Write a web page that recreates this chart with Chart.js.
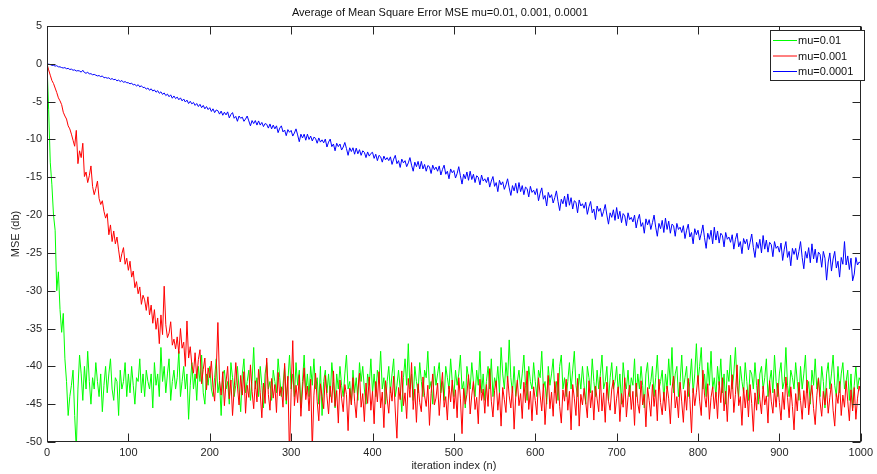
<!DOCTYPE html>
<html>
<head>
<meta charset="utf-8">
<script src="https://cdn.jsdelivr.net/npm/chart.js@4.4.1/dist/chart.umd.min.js"></script>
<style>
  html, body { margin: 0; padding: 0; background: #fff; }
  #wrap { position: relative; width: 877px; height: 474px; }
</style>
</head>
<body>
<div id="wrap"><canvas id="mse" width="877" height="474"></canvas></div>
<script>
// MSE learning curves, sampled every 2 iterations

const TITLE = 'Average of Mean Square Error MSE mu=0.01, 0.001, 0.0001';
const LABELS = ['mu=0.01', 'mu=0.001', 'mu=0.0001'];

const iterations = [
  0, 2, 4, 6, 8, 10, 12, 14, 16, 18, 20, 22, 24, 26, 28, 30, 32, 34, 36, 38,
  40, 42, 44, 46, 48, 50, 52, 54, 56, 58, 60, 62, 64, 66, 68, 70, 72, 74, 76, 78,
  80, 82, 84, 86, 88, 90, 92, 94, 96, 98, 100, 102, 104, 106, 108, 110, 112, 114, 116, 118,
  120, 122, 124, 126, 128, 130, 132, 134, 136, 138, 140, 142, 144, 146, 148, 150, 152, 154, 156, 158,
  160, 162, 164, 166, 168, 170, 172, 174, 176, 178, 180, 182, 184, 186, 188, 190, 192, 194, 196, 198,
  200, 202, 204, 206, 208, 210, 212, 214, 216, 218, 220, 222, 224, 226, 228, 230, 232, 234, 236, 238,
  240, 242, 244, 246, 248, 250, 252, 254, 256, 258, 260, 262, 264, 266, 268, 270, 272, 274, 276, 278,
  280, 282, 284, 286, 288, 290, 292, 294, 296, 298, 300, 302, 304, 306, 308, 310, 312, 314, 316, 318,
  320, 322, 324, 326, 328, 330, 332, 334, 336, 338, 340, 342, 344, 346, 348, 350, 352, 354, 356, 358,
  360, 362, 364, 366, 368, 370, 372, 374, 376, 378, 380, 382, 384, 386, 388, 390, 392, 394, 396, 398,
  400, 402, 404, 406, 408, 410, 412, 414, 416, 418, 420, 422, 424, 426, 428, 430, 432, 434, 436, 438,
  440, 442, 444, 446, 448, 450, 452, 454, 456, 458, 460, 462, 464, 466, 468, 470, 472, 474, 476, 478,
  480, 482, 484, 486, 488, 490, 492, 494, 496, 498, 500, 502, 504, 506, 508, 510, 512, 514, 516, 518,
  520, 522, 524, 526, 528, 530, 532, 534, 536, 538, 540, 542, 544, 546, 548, 550, 552, 554, 556, 558,
  560, 562, 564, 566, 568, 570, 572, 574, 576, 578, 580, 582, 584, 586, 588, 590, 592, 594, 596, 598,
  600, 602, 604, 606, 608, 610, 612, 614, 616, 618, 620, 622, 624, 626, 628, 630, 632, 634, 636, 638,
  640, 642, 644, 646, 648, 650, 652, 654, 656, 658, 660, 662, 664, 666, 668, 670, 672, 674, 676, 678,
  680, 682, 684, 686, 688, 690, 692, 694, 696, 698, 700, 702, 704, 706, 708, 710, 712, 714, 716, 718,
  720, 722, 724, 726, 728, 730, 732, 734, 736, 738, 740, 742, 744, 746, 748, 750, 752, 754, 756, 758,
  760, 762, 764, 766, 768, 770, 772, 774, 776, 778, 780, 782, 784, 786, 788, 790, 792, 794, 796, 798,
  800, 802, 804, 806, 808, 810, 812, 814, 816, 818, 820, 822, 824, 826, 828, 830, 832, 834, 836, 838,
  840, 842, 844, 846, 848, 850, 852, 854, 856, 858, 860, 862, 864, 866, 868, 870, 872, 874, 876, 878,
  880, 882, 884, 886, 888, 890, 892, 894, 896, 898, 900, 902, 904, 906, 908, 910, 912, 914, 916, 918,
  920, 922, 924, 926, 928, 930, 932, 934, 936, 938, 940, 942, 944, 946, 948, 950, 952, 954, 956, 958,
  960, 962, 964, 966, 968, 970, 972, 974, 976, 978, 980, 982, 984, 986, 988, 990, 992, 994, 996, 998,
  1000
];

// mu = 0.01
const mseMu01 = [
  0, -6, -13, -16, -20, -22, -30, -27.5, -32.5, -35.5,
  -33, -39, -42, -46.5, -44, -42.5, -40.5, -46.5, -51, -43,
  -38.5, -41, -44.5, -40, -43, -38, -42, -45, -41.5, -43,
  -39.5, -42, -44, -41, -46, -42.5, -40, -43.5, -41, -39,
  -43, -44.5, -41.5, -42, -46.5, -40.5, -43, -42, -39.5, -44,
  -41, -43.5, -40, -42.5, -45, -41.5, -42, -39, -43.5, -41,
  -44, -40.5, -42, -43, -41, -45.5, -39.5, -42.5, -41, -44,
  -37.5, -42, -40, -43.5, -41, -39, -44.5, -42, -40.5, -43,
  -41.5, -38, -44, -42, -40, -43, -41, -47, -42.5, -39.5,
  -43, -41, -44.5, -40, -42, -38.5, -43.5, -45, -41, -42.5,
  -40, -43, -44, -41.5, -39, -43.5, -42, -46.5, -41, -40.5,
  -43, -42, -45, -39.5, -41.5, -44, -42.5, -40, -43, -46,
  -41, -39, -43.5, -42, -40.5, -44.5, -42, -37.5, -43, -41.5,
  -44, -40, -42.5, -45.5, -41, -39.5, -43, -42, -44.5, -40.5,
  -42, -43.5, -39, -41.5, -44, -42.5, -40, -45, -42, -38.5,
  -43, -41, -44, -39.5, -42.5, -40.5, -45.5, -42, -38.5, -43.5,
  -41, -44, -40, -42.5, -39, -43, -41.5, -45, -40, -46.5,
  -42, -40.5, -43.5, -41, -44, -39.5, -42, -45.5, -41, -43,
  -40, -42.5, -44, -41, -38.5, -43, -42, -45, -40.5, -43.5,
  -41.5, -44.5, -39.5, -42, -40, -43, -45, -41, -42.5, -39,
  -43.5, -41, -44, -40.5, -42, -38, -43, -41.5, -45, -42,
  -40, -43.5, -41, -39, -44, -42.5, -40.5, -43, -46, -41.5,
  -39, -42.5, -37, -43, -41, -44.5, -40, -42, -43.5, -39.5,
  -42, -44, -40.5, -41.5, -38, -43, -42, -45, -40, -42.5,
  -41, -39.5, -43.5, -42, -44.5, -40, -41.5, -43, -39, -42,
  -44, -40.5, -42.5, -41, -38.5, -43, -42, -45.5, -40, -41.5,
  -43, -39.5, -42, -44, -40.5, -42.5, -38, -43.5, -41, -44.5,
  -42, -40, -43, -39, -44, -41.5, -42.5, -40, -43.5, -37.5,
  -41, -43, -39.5, -42, -36.5, -41.5, -43.5, -40, -44, -42,
  -40.5, -43, -41, -38.5, -42.5, -44.5, -40, -42, -43, -39.5,
  -42, -44, -40.5, -41.5, -38, -43, -42, -45, -40, -42.5,
  -41, -39, -43.5, -42, -44.5, -40, -38.5, -43, -41.5, -44,
  -42, -39.5, -43, -40.5, -38, -42.5, -44, -41, -43, -40,
  -42.5, -45, -40, -41.5, -43.5, -39, -42, -44, -40.5, -43,
  -41, -38.5, -43, -42, -40, -44.5, -41.5, -39.5, -43, -42,
  -40, -43.5, -41, -45, -39.5, -42, -43, -40.5, -44, -41.5,
  -42.5, -39, -44, -41, -43, -40, -42.5, -45.5, -41, -39.5,
  -43, -42, -40, -44, -41.5, -38.5, -43, -42, -40.5, -44.5,
  -41, -43, -39, -42.5, -37.5, -43.5, -41, -40, -44, -42,
  -38.5, -43, -41.5, -40, -44, -42, -39, -43.5, -41, -37,
  -42, -40, -37.5, -43, -41, -44, -39.5, -42.5, -38, -43,
  -41.5, -44, -40, -42.5, -39, -43.5, -41, -45, -40.5, -42,
  -38.5, -43, -41, -37.5, -42.5, -44, -40, -42, -43.5, -39.5,
  -42, -44.5, -40.5, -41, -43, -39.5, -42.5, -45, -41, -40,
  -43, -41.5, -39, -44, -42, -40.5, -43.5, -38.5, -42, -44,
  -41, -39.5, -43, -42, -37.5, -42.5, -44, -40.5, -41.5, -43,
  -39.5, -42, -44.5, -40, -43, -41, -38.5, -43.5, -42, -45,
  -40.5, -42.5, -39, -43, -41.5, -44, -40, -42, -45.5, -41,
  -39.5, -43, -41, -38.5, -42.5, -44, -40, -43.5, -41, -39.5,
  -43, -42, -40.5, -44.5, -41, -45.5, -42.5, -40, -43, -41.5,
  -42
];

// mu = 0.001
const mseMu001 = [
  0, -0.8, -1.5, -2.2, -2.6, -3.2, -3.8, -4.5, -4.9, -5.4,
  -6.4, -6.9, -7.3, -8.2, -8.6, -9.3, -10.1, -10.9, -8.8, -13.2,
  -11.5, -12.4, -10.5, -14.9, -14.3, -15.7, -14.8, -13.5, -16.2, -17.3,
  -16.5, -15.5, -17.8, -18.6, -18.1, -19.5, -20.4, -19.8, -22.6, -21.3,
  -23.5, -22.1, -23.8, -22.9, -24.6, -26.2, -25.1, -24.3, -26.5, -25.7,
  -27.3, -26.1, -28.2, -27.4, -29.6, -28.8, -30.4, -29.5, -31.8, -30.6,
  -31.2, -32.6, -30.8, -33.2, -31.9, -34.3, -32.5, -35.1, -33.6, -37,
  -33.2, -35.8, -29.4, -34.5, -36.2, -35.6, -34.1, -37.2, -36.4, -37.7,
  -36.1, -38.3, -35, -37.6, -36.8, -40, -34, -38.9, -37.4, -39.8,
  -40.9, -38.2, -41.6, -39.1, -37.8, -42.3, -40.4, -38.9, -43.1, -40.2,
  -41.5, -39.3, -42.8, -44.6, -40.5, -34.2, -41.9, -43.8, -40.7, -45.2,
  -42.1, -40, -44.3, -41.8, -46.5, -43, -39.5, -42.6, -45.1, -41.2,
  -43.8, -40.7, -46.2, -42.5, -44.1, -39.8, -43.3, -45.6, -41.9, -44.7,
  -40.4, -43.5, -46.8, -42.2, -44.9, -38.9, -43.7, -45.8, -41.6, -44.2,
  -42.4, -46.1, -40.8, -43.9, -42.7, -45.4, -39.6, -44.5, -41.3, -52,
  -43.4, -36.6, -45.2, -42.5, -44.8, -41.1, -46.6, -43, -40.2, -44.4,
  -42.6, -45.9, -41.7, -51, -43.8, -40.9, -44.6, -47.2, -42.3, -44,
  -45.6, -41.2, -43.9, -46.3, -42.6, -44.8, -40.6, -45.3, -43.2, -47.5,
  -41.8, -44.2, -46, -42.4, -43.7, -48.5, -42.9, -45.1, -41.5, -44.6,
  -46.8, -43.1, -40.9, -45.4, -43.6, -47.3, -42.2, -44.9, -41.4, -45.8,
  -43.3, -47.6, -42, -44.7, -40.7, -45.5, -43.4, -48.1, -41.9, -44.3,
  -46.2, -42.7, -44.6, -41.3, -45.9, -49.5, -42.8, -44.4, -40.6, -45.2,
  -43.5, -46.9, -41.6, -44.1, -39.5, -45.7, -43, -47.4, -42.3, -44.8,
  -46, -41.4, -43.9, -45.3, -42.5, -47.8, -43.6, -41, -45.1, -44.2,
  -42.2, -46.5, -43.3, -40.8, -45.4, -44, -47.1, -42.6, -44.7, -41.8,
  -45.6, -43.1, -46.8, -41.5, -44.2, -48.9, -42.9, -45, -43.7, -41.1,
  -46.3, -43.8, -42, -45.7, -44.1, -47.6, -41.7, -44.5, -43, -46.2,
  -42.4, -45.3, -40.3, -44.6, -46.7, -43.2, -41.9, -45.8, -43.5, -47.9,
  -42.8, -44.4, -46.1, -41.3, -43.9, -45.5, -42.6, -48.3, -44, -41.8,
  -45.2, -43.6, -46.9, -42.1, -44.8, -40.6, -45.7, -43.3, -47.2, -42.7,
  -44.5, -46.4, -41.5, -43.8, -45.9, -42.3, -47.7, -44.1, -41.2, -45.6,
  -43.4, -46.6, -42, -44.9, -40.9, -45.3, -47.5, -43.1, -44.6, -41.7,
  -45.8, -43.3, -48.4, -42.4, -44.2, -46.5, -41.6, -47.9, -43.7, -45.1,
  -42.9, -44.7, -46.8, -41.9, -45.5, -43.2, -47.1, -42.6, -44.3, -46,
  -41.4, -45.9, -43.5, -47.4, -42.1, -44.6, -45.8, -43, -41.8, -46.3,
  -44.2, -42.7, -47.3, -43.6, -45.4, -41.5, -46.7, -44.1, -42.5, -45.7,
  -43.3, -47.8, -42.2, -44.9, -46.2, -41.9, -45.1, -43.7, -48, -42.8,
  -44.5, -46.6, -42.4, -45.3, -43.1, -47.2, -41.7, -44.8, -46.4, -43.4,
  -45.9, -42.6, -44.3, -47.6, -43, -41.3, -45.5, -44, -46.8, -42.1,
  -44.7, -47.4, -43.2, -45.8, -41.6, -44.4, -48.8, -42.9, -45.2, -43.5,
  -41.2, -44.6, -46.5, -40.5, -43.8, -45.4, -42.3, -47, -44.1, -42.7,
  -45.6, -43.4, -46.9, -42, -44.8, -41.5, -45.9, -43.3, -47.3, -42.5,
  -44.3, -41.1, -46.1, -43.7, -39.8, -45.2, -44, -47.8, -42.8, -45.5,
  -43.1, -46.7, -42.4, -44.9, -48.6, -43.5, -45.8, -41.7, -44.4, -46.3,
  -42.6, -45.1, -43.9, -47.5, -41.9, -44.6, -46.2, -43, -45.4, -42.2,
  -44.8, -47.1, -43.4, -45.7, -41.4, -44.1, -46.8, -42.7, -45.3, -48.4,
  -43.6, -45.9, -42.1, -44.5, -47, -43.2, -45.5, -41.8, -46.4, -44,
  -42.5, -45.6, -47.7, -43.9, -41.6, -44.7, -46.6, -43.3, -45.1, -42.9,
  -46.2, -44.1, -42.3, -45.8, -47.9, -43.6, -44.9, -42, -46.5, -43.8,
  -45.4, -41.9, -44.6, -47.2, -43.1, -45.9, -42.8, -47, -44.2, -42.6,
  -43.5
];

// mu = 0.0001
const mseMu0001 = [
  0, -0.05, -0.1, -0.2, -0.2, -0.3, -0.25, -0.4, -0.4, -0.5,
  -0.55, -0.5, -0.65, -0.6, -0.75, -0.7, -0.85, -0.8, -0.95, -0.9,
  -0.95, -1.1, -0.85, -1.15, -1.25, -1.1, -1.35, -1.3, -1.45, -1.4,
  -1.5, -1.6, -1.55, -1.7, -1.6, -1.85, -1.8, -1.9, -1.85, -2.05,
  -1.95, -2.1, -2.05, -2.25, -2.15, -2.35, -2.2, -2.45, -2.35, -2.5,
  -2.5, -2.65, -2.55, -2.8, -2.7, -2.95, -2.75, -3.05, -2.9, -3.15,
  -3.1, -3.35, -3.2, -3.5, -3.3, -3.6, -3.45, -3.75, -3.55, -3.9,
  -3.7, -4.05, -3.85, -4.2, -4.0, -4.35, -4.1, -4.55, -4.25, -4.6,
  -4.4, -4.75, -4.5, -4.9, -4.65, -5.05, -4.8, -5.25, -4.95, -5.3,
  -5.1, -5.5, -5.25, -5.65, -5.35, -5.8, -5.5, -5.95, -5.65, -6.05,
  -5.8, -6.3, -5.95, -6.45, -6.1, -6.2, -6.65, -6.25, -6.8, -6.4,
  -6.75, -6.35, -7.15, -6.7, -6.45, -7.2, -6.95, -7.6, -6.9, -7.2,
  -7.05, -7.6, -7.3, -6.9, -7.55, -8.2, -7.5, -7.9, -7.5, -8.1,
  -7.55, -8.1, -7.75, -8.3, -7.9, -8.0, -8.5, -7.95, -8.6, -8.1,
  -8.6, -8.2, -9.1, -8.5, -8.2, -9.0, -8.75, -9.5, -8.7, -9.05,
  -8.8, -9.55, -9.15, -8.6, -9.4, -10.3, -9.3, -9.8, -9.3, -10.1,
  -9.3, -10.0, -9.55, -10.2, -9.7, -9.85, -10.5, -9.8, -10.35, -10.05,
  -10.45, -9.95, -11.0, -10.35, -9.95, -10.95, -10.6, -11.5, -10.5, -10.95,
  -10.6, -11.4, -11.0, -10.4, -11.2, -12.1, -11.1, -11.6, -11.1, -11.95,
  -11.15, -11.9, -11.35, -12.1, -11.5, -11.7, -12.4, -11.65, -12.2, -11.85,
  -11.7, -12.5, -11.95, -12.8, -12.1, -12.3, -13.0, -12.2, -12.7, -12.4,
  -12.8, -12.3, -13.3, -12.6, -12.1, -13.2, -12.8, -13.7, -12.6, -13.1,
  -12.8, -13.6, -13.1, -12.4, -13.4, -14.2, -13.0, -13.6, -12.9, -13.9,
  -12.9, -13.9, -13.3, -14.2, -13.45, -13.6, -14.5, -13.4, -14.0, -13.65,
  -14.2, -13.5, -14.7, -13.95, -13.4, -14.6, -14.2, -15.2, -13.9, -14.4,
  -14.1, -15.1, -14.5, -13.6, -14.8, -15.9, -14.6, -15.2, -14.3, -15.4,
  -14.2, -15.3, -14.6, -15.7, -14.8, -15.0, -16.0, -14.7, -15.5, -15.2,
  -15.7, -15.0, -16.3, -15.5, -14.9, -16.2, -15.7, -16.9, -15.4, -16.0,
  -15.6, -16.6, -16.0, -15.2, -16.4, -17.4, -16.1, -16.8, -15.8, -17.1,
  -15.7, -16.9, -16.1, -17.3, -16.3, -16.5, -17.6, -16.2, -17.0, -16.7,
  -17.3, -16.5, -18.1, -17.1, -16.4, -17.9, -17.4, -18.8, -17.0, -17.7,
  -17.3, -18.4, -17.7, -16.8, -18.2, -19.4, -17.9, -18.5, -17.5, -18.9,
  -17.2, -18.7, -17.7, -19.2, -18.1, -18.3, -19.7, -18.0, -18.8, -18.5,
  -19.1, -18.3, -19.9, -18.9, -18.2, -19.7, -19.2, -20.6, -18.8, -19.5,
  -19.1, -20.2, -19.5, -18.6, -20.0, -21.2, -19.7, -20.3, -19.3, -20.7,
  -19.0, -20.5, -19.5, -21.0, -19.8, -20.1, -21.4, -19.7, -20.6, -20.3,
  -20.9, -20.0, -21.7, -20.6, -19.9, -21.5, -21.0, -22.4, -20.5, -21.3,
  -20.6, -21.9, -21.0, -20.0, -21.6, -22.8, -21.1, -21.8, -20.7, -22.3,
  -20.4, -21.9, -20.8, -22.4, -21.2, -21.4, -22.8, -21.1, -21.9, -21.6,
  -22.3, -21.4, -23.1, -22.0, -21.2, -22.9, -22.3, -23.8, -21.8, -22.6,
  -22.0, -23.3, -22.4, -21.3, -23.0, -24.4, -22.4, -23.2, -22.0, -23.8,
  -21.6, -23.3, -22.1, -23.7, -22.4, -22.7, -24.2, -22.3, -23.2, -22.9,
  -23.6, -22.6, -24.5, -23.2, -22.4, -24.2, -23.5, -25.1, -23.1, -23.8,
  -23.2, -24.6, -23.6, -22.5, -24.3, -25.6, -23.6, -24.4, -23.2, -25.0,
  -22.7, -24.5, -23.3, -24.9, -23.6, -23.9, -25.5, -23.5, -24.4, -24.1,
  -24.9, -23.7, -26.0, -24.5, -23.5, -25.6, -24.8, -26.7, -24.4, -25.2,
  -24.4, -25.9, -24.8, -23.5, -25.6, -27.1, -24.8, -25.7, -24.3, -26.3,
  -23.8, -25.8, -24.5, -26.3, -24.9, -25.2, -26.9, -24.8, -25.7, -28.6,
  -26.2, -25.0, -27.4, -25.8, -24.8, -27.0, -26.1, -28.2, -25.6, -26.5,
  -23.5, -26.6, -25.4, -27.2, -25.7, -28.7, -27.8, -25.6, -26.6, -26.2,
  -26.4
];

const COLORS = ['#00ff00', '#ff0000', '#0000ff'];
const FONT = "'Liberation Sans', Arial, sans-serif";
const INK = '#262626';

const toPoints = vals => vals.map((v, i) => ({ x: iterations[i], y: v }));

// MATLAB style box, inward ticks, title and legend
const matlabFrame = {
  id: 'matlabFrame',
  afterDraw(chart) {
    const { ctx, chartArea: a, scales } = chart;
    const L = Math.round(a.left) + 0.5, R = Math.round(a.right) - 0.5;
    const T = Math.round(a.top) + 0.5, B = Math.round(a.bottom) - 0.5;
    const TICK = 8;
    ctx.save();
    ctx.strokeStyle = INK;
    ctx.lineWidth = 1;
    ctx.strokeRect(L, T, R - L, B - T);
    ctx.beginPath();
    scales.x.ticks.forEach(t => {
      const px = Math.round(scales.x.getPixelForValue(t.value)) + 0.5;
      ctx.moveTo(px, B); ctx.lineTo(px, B - TICK);
      ctx.moveTo(px, T); ctx.lineTo(px, T + TICK);
    });
    scales.y.ticks.forEach(t => {
      const py = Math.round(scales.y.getPixelForValue(t.value)) + 0.5;
      ctx.moveTo(L, py); ctx.lineTo(L + TICK, py);
      ctx.moveTo(R, py); ctx.lineTo(R - TICK, py);
    });
    ctx.stroke();

    // title
    ctx.fillStyle = '#111';
    ctx.font = '11px ' + FONT;
    ctx.textAlign = 'center';
    ctx.textBaseline = 'middle';
    ctx.fillText(TITLE, 440, 13);

    // legend box
    const bx = 770.5, by = 30.5, bw = 94, bh = 50;
    ctx.fillStyle = '#fff';
    ctx.fillRect(bx, by, bw, bh);
    ctx.strokeRect(bx, by, bw, bh);
    const rows = [40, 55.5, 71];
    ctx.textAlign = 'left';
    chart.data.datasets.forEach((ds, i) => {
      ctx.strokeStyle = ds.borderColor;
      ctx.beginPath();
      ctx.moveTo(773, rows[i] + 0.5);
      ctx.lineTo(797, rows[i] + 0.5);
      ctx.stroke();
      ctx.fillStyle = '#111';
      ctx.fillText(ds.label, 798, rows[i] + 1);
    });
    ctx.restore();
  }
};

new Chart(document.getElementById('mse'), {
  type: 'line',
  data: {
    datasets: [
      { label: LABELS[0], data: toPoints(mseMu01),   borderColor: COLORS[0], order: 3 },
      { label: LABELS[1], data: toPoints(mseMu001),  borderColor: COLORS[1], order: 2 },
      { label: LABELS[2], data: toPoints(mseMu0001), borderColor: COLORS[2], order: 1 },
    ],
  },
  options: {
    responsive: false,
    animation: false,
    devicePixelRatio: 1,
    layout: { padding: { top: 26, right: 12, left: 0, bottom: 0 } },
    elements: {
      line: { borderWidth: 1, tension: 0, fill: false },
      point: { radius: 0, hoverRadius: 0 },
    },
    plugins: { legend: { display: false }, title: { display: false }, tooltip: { enabled: false } },
    scales: {
      x: {
        type: 'linear', min: 0, max: 1000,
        grid: { display: false, drawTicks: false },
        border: { display: false },
        ticks: { stepSize: 100, autoSkip: false, maxRotation: 0, padding: 4, color: INK,
                 font: { family: FONT, size: 11 }, callback: v => String(v) },
        title: { display: true, text: 'iteration index (n)', color: INK,
                 font: { family: FONT, size: 11 }, padding: { top: 0, bottom: 1 } },
        afterFit: s => { s.height = 32; },
      },
      y: {
        type: 'linear', min: -50, max: 5,
        grid: { display: false, drawTicks: false },
        border: { display: false },
        ticks: { stepSize: 5, autoSkip: false, padding: 5, color: INK,
                 font: { family: FONT, size: 11 }, callback: v => String(v) },
        title: { display: true, text: 'MSE (db)', color: INK,
                 font: { family: FONT, size: 11 }, padding: { top: 9, bottom: 0 } },
        afterFit: s => { s.width = 47; },
      },
    },
  },
  plugins: [matlabFrame],
});
</script>
</body>
</html>
